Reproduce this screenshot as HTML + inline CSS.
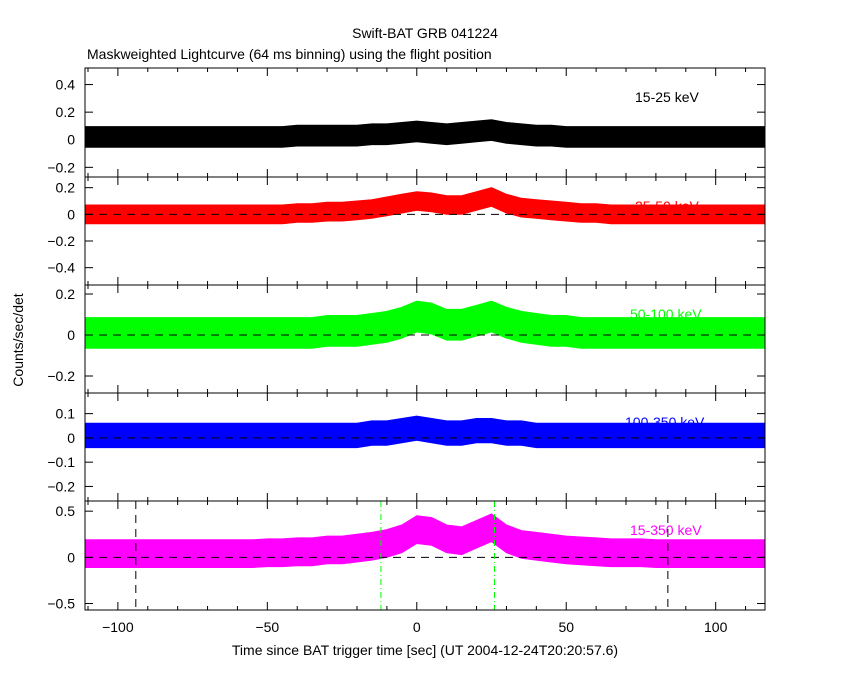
<!DOCTYPE html>
<html><head><meta charset="utf-8"><style>
body{margin:0;background:#fff}
svg text{font-family:"Liberation Sans",sans-serif}
</style></head><body>
<svg id="chart" width="850" height="680" xmlns="http://www.w3.org/2000/svg">
<rect width="850" height="680" fill="#fff"/>
<text x="425" y="38" font-size="14" text-anchor="middle">Swift-BAT GRB 041224</text>
<text x="87" y="59" font-size="14">Maskweighted Lightcurve (64 ms binning) using the flight position</text>
<text x="425" y="655" font-size="14" text-anchor="middle">Time since BAT trigger time [sec] (UT 2004-12-24T20:20:57.6)</text>
<text transform="translate(23,340) rotate(-90)" font-size="14" text-anchor="middle">Counts/sec/det</text>
<g id="g"></g>
</svg>
<script>
const times=[-111,-105,-100,-95,-90,-85,-80,-75,-70,-65,-60,-55,-50,-45,-40,-35,-30,-25,-20,-15,-10,-5,0,5,10,15,20,25,30,35,40,45,50,55,60,65,70,75,80,85,90,95,100,105,110,116.5];
const s1=[0.02,0.02,0.02,0.02,0.02,0.02,0.02,0.02,0.02,0.02,0.02,0.02,0.02,0.02,0.03,0.03,0.03,0.03,0.03,0.04,0.04,0.05,0.06,0.05,0.04,0.05,0.06,0.07,0.05,0.04,0.03,0.03,0.02,0.02,0.02,0.02,0.02,0.02,0.02,0.02,0.02,0.02,0.02,0.02,0.02,0.02];
const s2=[0,0,0,0,0,0,0,0,0,0,0,0,0,0,0.01,0.01,0.02,0.02,0.03,0.04,0.06,0.08,0.1,0.09,0.07,0.07,0.1,0.13,0.08,0.05,0.04,0.03,0.02,0.01,0.01,0,0,0,0,0,0,0,0,0,0,0];
const s3=[0.01,0.01,0.01,0.01,0.01,0.01,0.01,0.01,0.01,0.01,0.01,0.01,0.01,0.01,0.01,0.01,0.02,0.02,0.02,0.03,0.04,0.06,0.09,0.08,0.05,0.05,0.07,0.09,0.06,0.04,0.03,0.02,0.02,0.01,0.01,0.01,0.01,0.01,0.01,0.01,0.01,0.01,0.01,0.01,0.01,0.01];
const s4=[0.01,0.01,0.01,0.01,0.01,0.01,0.01,0.01,0.01,0.01,0.01,0.01,0.01,0.01,0.01,0.01,0.01,0.01,0.01,0.02,0.02,0.03,0.04,0.03,0.02,0.02,0.03,0.03,0.02,0.02,0.01,0.01,0.01,0.01,0.01,0.01,0.01,0.01,0.01,0.01,0.01,0.01,0.01,0.01,0.01,0.01];
const s5=[0.04,0.04,0.04,0.04,0.04,0.04,0.04,0.04,0.04,0.04,0.04,0.04,0.05,0.05,0.06,0.06,0.08,0.08,0.1,0.12,0.15,0.2,0.3,0.28,0.2,0.18,0.25,0.32,0.2,0.14,0.12,0.1,0.08,0.07,0.06,0.05,0.05,0.05,0.04,0.04,0.04,0.04,0.04,0.04,0.04,0.04];
const noise=[0.075,0.07,0.075,0.05,0.15];
const series=[s1,s2,s3,s4,s5];
const colors=["#000","#f00","#0f0","#00f","#f0f"];
const labels=["15-25 keV","25-50 keV","50-100 keV","100-350 keV","15-350 keV"];
const yTicks=[[0.4,0.2,0,-0.2],[0.2,0,-0.2,-0.4],[0.2,0,-0.2],[0.1,0,-0.1,-0.2],[0.5,0,-0.5]];
const yTickLabels=[["0.4","0.2","0","\u22120.2"],["0.2","0","\u22120.2","\u22120.4"],["0.2","0","\u22120.2"],["0.1","0","\u22120.1","\u22120.2"],["0.5","0","\u22120.5"]];
const yRanges=[[-0.27,0.52],[-0.53,0.28],[-0.283,0.244],[-0.26,0.185],[-0.57,0.61]];
const xTicks=[-100,-50,0,50,100];
const xTickLabels=["\u2212100","\u221250","0","50","100"];
const blackLines=[-94,84];
const greenLines=[-12,26];

const NS="http://www.w3.org/2000/svg";
const g=document.getElementById('g');
const L=85,R=765,tops=[68,177,285,393,501,610];
const xMin=-111,xMax=116.5;
const X=t=>L+(t-xMin)/(xMax-xMin)*(R-L);
function mk(tag,attrs,parent){const e=document.createElementNS(NS,tag);for(const k in attrs)e.setAttribute(k,attrs[k]);(parent||g).appendChild(e);return e;}
for(let p=0;p<5;p++){
  const top=tops[p],bot=tops[p+1];
  const [lo,hi]=yRanges[p];
  const Y=v=>bot-(v-lo)/(hi-lo)*(bot-top);
  const pg=mk('g',{});
  
  
  const s=series[p],hw=noise[p];
  let up=[],dn=[];
  for(let i=0;i<times.length;i++){up.push(X(times[i]).toFixed(1)+','+Y(s[i]+hw).toFixed(1));dn.unshift(X(times[i]).toFixed(1)+','+Y(s[i]-hw).toFixed(1));}
  const band=mk('polygon',{points:up.concat(dn).join(' '),fill:colors[p],stroke:colors[p],'stroke-width':1},pg);
  
  
  const z=mk('line',{x1:L,x2:R,y1:Y(0),y2:Y(0),stroke:'#000','stroke-dasharray':'8,6'},pg);
  
  
  if(p===4){
    blackLines.forEach(t=>{const l=mk('line',{x1:X(t),x2:X(t),y1:top,y2:bot,stroke:'#000','stroke-dasharray':'8,6'},pg);
      
      });
    greenLines.forEach(t=>{const l=mk('line',{x1:X(t),x2:X(t),y1:top,y2:bot,stroke:'#0f0','stroke-dasharray':'6,3,1,3'},pg);
      
      });
  }
  const fr=mk('rect',{x:L,y:top,width:R-L,height:bot-top,fill:'none',stroke:'#000','stroke-width':1},pg);
  
  
  for(let t=-110;t<=110;t+=10){const mj=t%50===0,len=mj?8:4;
    mk('line',{x1:X(t),x2:X(t),y1:top,y2:top+len,stroke:'#000'},pg);
    mk('line',{x1:X(t),x2:X(t),y1:bot,y2:bot-len,stroke:'#000'},pg);}
  yTicks[p].forEach((v,i)=>{
    mk('line',{x1:L,x2:L+8,y1:Y(v),y2:Y(v),stroke:'#000'},pg);
    mk('line',{x1:R,x2:R-8,y1:Y(v),y2:Y(v),stroke:'#000'},pg);
    const tx=mk('text',{x:75,y:Y(v)+5,'font-size':14,'text-anchor':'end'},pg);
    tx.textContent=yTickLabels[p][i];
    
    
  });
  const lb=mk('text',{x:[635,635,630,625,630][p],y:top+34,'font-size':14,'text-anchor':'start',fill:colors[p]},pg);
  lb.textContent=labels[p];
  
  
}
xTicks.forEach((t,i)=>{const tx=mk('text',{x:X(t),y:655-3,'font-size':14,'text-anchor':'middle'});
  tx.textContent=xTickLabels[i];
  
  
  tx.setAttribute('y','632');});
</script>
</body></html>
